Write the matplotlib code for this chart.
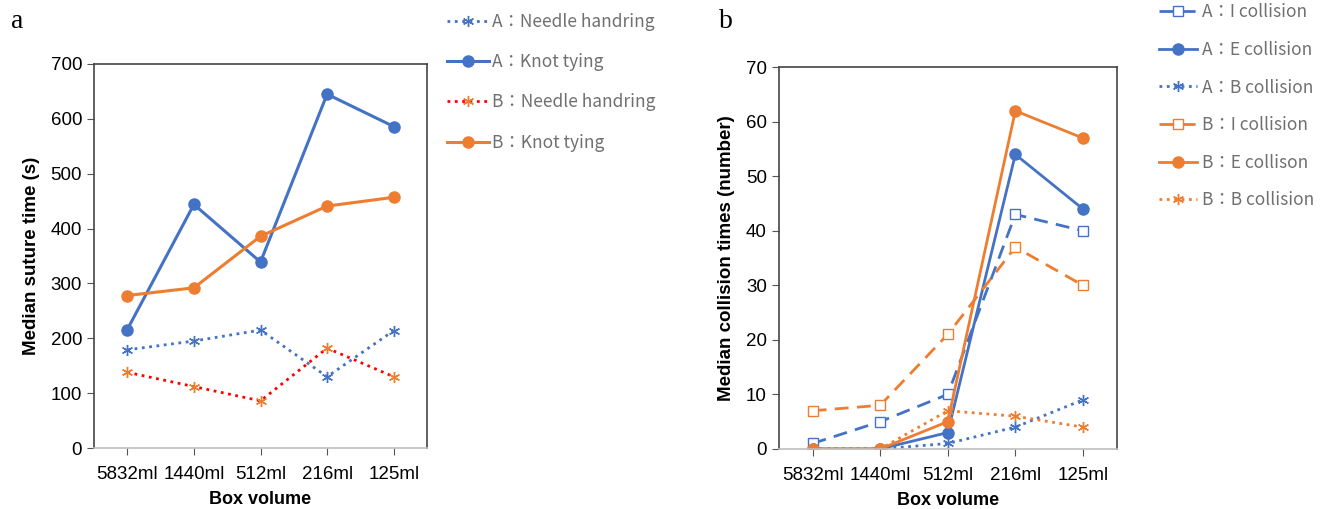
import matplotlib
matplotlib.use("Agg")
import matplotlib.pyplot as plt

boxes = ["5832ml", "1440ml", "512ml", "216ml", "125ml"]

# panel a: median suture time (s)
a_needle = [179, 195, 215, 130, 214]
a_knot = [216, 444, 339, 645, 586]
b_needle = [138, 112, 86, 182, 130]
b_knot = [278, 292, 386, 441, 457]

# panel b: median collision times
a_icol = [1, 5, 10, 43, 40]
a_ecol = [0, 0, 3, 54, 44]
a_bcol = [0, 0, 1, 4, 9]
b_icol = [7, 8, 21, 37, 30]
b_ecol = [0, 0, 5, 62, 57]
b_bcol = [0, 0, 7, 6, 4]

blue = "#4472C4"
orange = "#ED7D31"
red = "#FF0000"
star = (6, 2, 0)
leg_font = ["Noto Sans CJK JP", "DejaVu Sans"]

plt.rcParams["font.family"] = ["Liberation Sans", "DejaVu Sans"]

fig = plt.figure(figsize=(13.2, 5.09), dpi=100)
ax1 = fig.add_axes([0.0712, 0.1198, 0.2523, 0.7545])
ax2 = fig.add_axes([0.590, 0.118, 0.256, 0.750])
x = range(len(boxes))

ax1.plot(x, a_needle, ls=":", lw=2, color=blue, marker=star, ms=8, mew=1,
         label="A：Needle handring")
ax1.plot(x, a_knot, ls="-", lw=2.2, color=blue, marker="o", ms=8,
         label="A：Knot tying")
ax1.plot(x, b_needle, ls=":", lw=2, color=red, marker=star, ms=8, mew=1,
         mec=orange, label="B：Needle handring")
ax1.plot(x, b_knot, ls="-", lw=2.2, color=orange, marker="o", ms=8,
         label="B：Knot tying")
ax1.set_ylim(0, 700)
ax1.set_yticks(range(0, 701, 100))
ax1.set_ylabel("Median suture time (s)", fontsize=13.5, fontweight="bold",
               labelpad=8)

ax2.plot(x, a_icol, ls=(0, (5, 3)), lw=2, color=blue, marker="s", ms=7.5,
         mfc="white", mew=1, label="A：I collision")
ax2.plot(x, a_ecol, ls="-", lw=2, color=blue, marker="o", ms=8,
         label="A：E collision")
ax2.plot(x, a_bcol, ls=":", lw=2, color=blue, marker=star, ms=8, mew=1,
         label="A：B collision")
ax2.plot(x, b_icol, ls=(0, (5, 3)), lw=2, color=orange, marker="s", ms=7.5,
         mfc="white", mew=1, label="B：I collision")
ax2.plot(x, b_ecol, ls="-", lw=2, color=orange, marker="o", ms=8,
         label="B：E collison")
ax2.plot(x, b_bcol, ls=":", lw=2, color=orange, marker=star, ms=8, mew=1,
         label="B：B collision")
ax2.set_ylim(0, 70)
ax2.set_yticks(range(0, 71, 10))
ax2.set_ylabel("Median collision times (number)", fontsize=13.5,
               fontweight="bold", labelpad=8)

for ax in (ax1, ax2):
    ax.set_xlim(-0.5, 4.5)
    ax.set_xticks(list(x))
    ax.set_xticklabels(boxes)
    ax.set_xlabel("Box volume", fontsize=13, fontweight="bold", labelpad=6)
    ax.tick_params(axis="both", direction="out", length=5, color="#555555",
                   labelsize=13.5)
    ax.tick_params(axis="x", pad=8)
    for s in ax.spines.values():
        s.set_color("#444444")
        s.set_linewidth(1.2)
    ax.spines["bottom"].set_color("#bfbfbf")

leg1 = ax1.legend(loc="upper left", bbox_to_anchor=(0.331, 0.995),
                  bbox_transform=fig.transFigure, frameon=False,
                  prop={"family": leg_font, "size": 12.5}, handlelength=2.4,
                  handletextpad=0.15, labelspacing=1.28, borderaxespad=0.2)
leg2 = ax2.legend(loc="upper left", bbox_to_anchor=(0.870, 1.014),
                  bbox_transform=fig.transFigure, frameon=False,
                  prop={"family": leg_font, "size": 12.5}, handlelength=2.2,
                  handletextpad=0.3, labelspacing=1.13, borderaxespad=0.2)
for leg in (leg1, leg2):
    for t in leg.get_texts():
        t.set_color("#707070")

fig.text(0.008, 0.945, "a", fontsize=20, family="Liberation Serif")
fig.text(0.545, 0.945, "b", fontsize=20, family="Liberation Serif")

fig.savefig("out.png", dpi=100)
